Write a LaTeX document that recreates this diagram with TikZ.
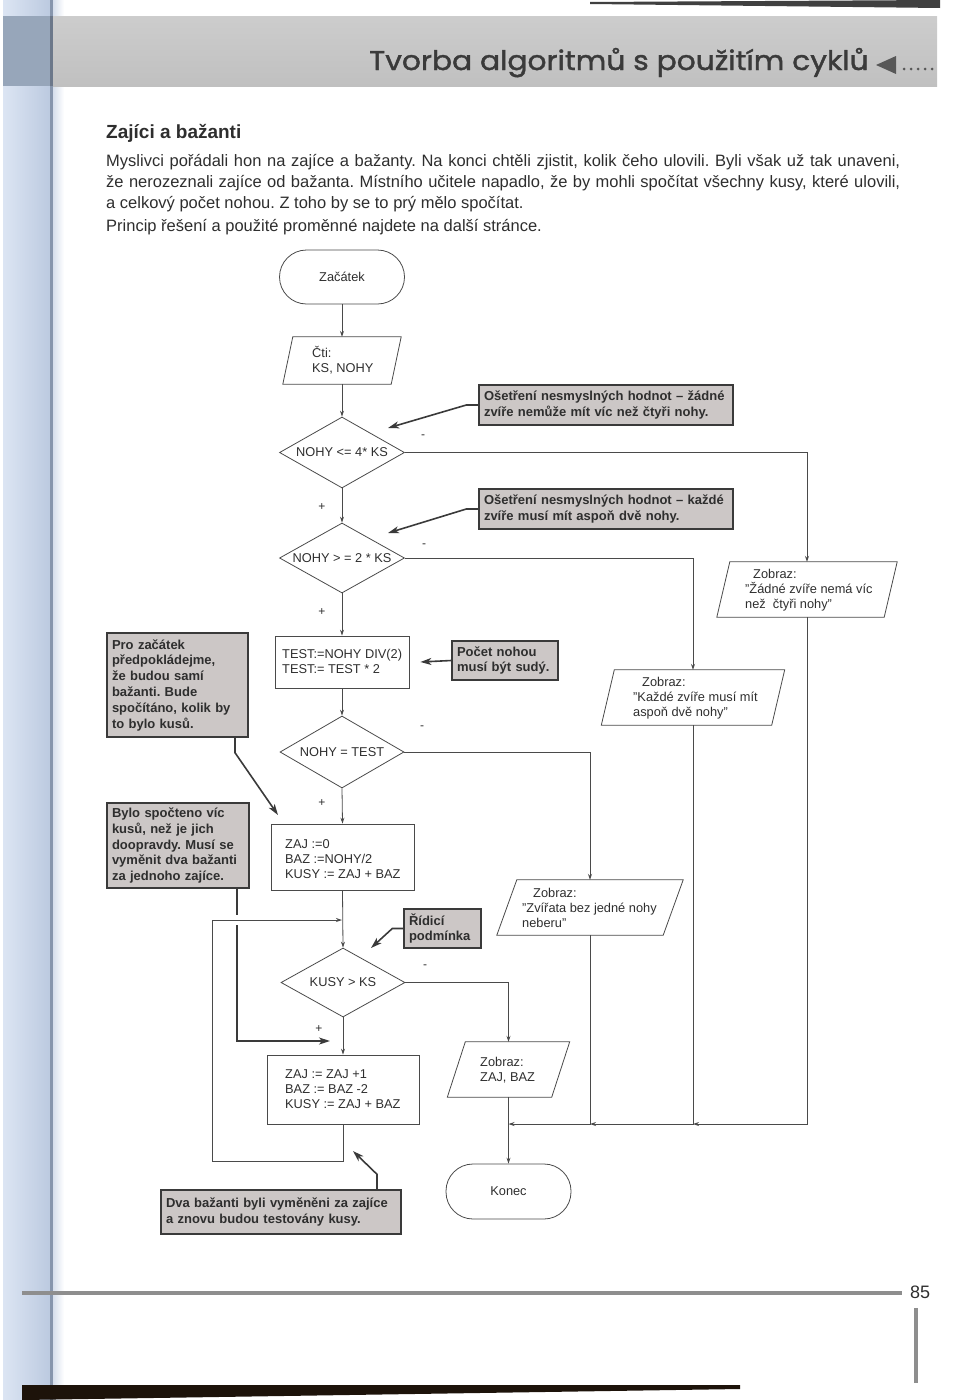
\documentclass[tikz,border=0pt]{standalone}
\usepackage{fontspec}
\setmainfont{Liberation Sans}
\newfontfamily\headfont{Poppins}[FakeBold=1.5,FakeStretch=1.1]
\usetikzlibrary{shapes.geometric,arrows.meta,calc}
\definecolor{ink}{HTML}{2E2E2E}
\definecolor{linec}{HTML}{4A4A4A}
\definecolor{annfill}{HTML}{CCC7C6}
\definecolor{anndraw}{HTML}{3A3A3A}
\definecolor{bandgray}{HTML}{C0C0C0}
\definecolor{titlegray}{HTML}{3A3A3A}
\definecolor{stripL}{HTML}{DCE5F3}
\definecolor{stripM}{HTML}{BCCAE0}
\definecolor{stripD}{HTML}{8796AD}
\definecolor{bandblue}{HTML}{97A6BA}
\definecolor{footgray}{HTML}{8E8E8E}
\newcommand\chartf{\fontsize{12.8}{15}\selectfont}
\newcommand\annf{\bfseries\fontsize{13}{15.8}\selectfont}
\newcommand\parf{\fontsize{16.5}{21}\selectfont}
\newcommand\slantbox[2]{\draw[shapeline] ([xshift=#2]#1.north west) -- ([xshift=#2]#1.north east) -- ([xshift=-#2]#1.south east) -- ([xshift=-#2]#1.south west) -- cycle;}
\begin{document}
\frenchspacing
\begin{tikzpicture}[x=1pt,y=-1pt,
  shapeline/.style={draw=linec,line width=0.8pt},
  term/.style={shapeline,rounded corners=27pt,font=\chartf,text=ink,inner sep=0pt},
  procbox/.style={shapeline,inner sep=0pt},
  decision/.style={shapeline,diamond,aspect=1.76,inner sep=0pt,font=\chartf,text=ink},
  iobox/.style={inner sep=0pt},
  txt/.style={font=\chartf,text=ink,align=left,inner sep=0pt,anchor=west},
  ann/.style={draw=anndraw,line width=1.4pt,fill=annfill,font=\annf,text=ink,align=left,inner xsep=5pt,inner ysep=0pt},
  flow/.style={draw=linec,line width=0.8pt,-{Stealth[length=6pt,width=4pt,inset=2pt]}},
  annarrow/.style={draw=anndraw,line width=1.6pt,-{Stealth[length=11pt,width=7pt,inset=3pt]}},
  annline/.style={draw=anndraw,line width=1.6pt},
  sign/.style={font=\fontsize{12}{12}\selectfont,text=ink,inner sep=0pt}
]
\useasboundingbox (0,0) rectangle (960,1400);
% page decoration
\shade[left color=stripL, right color=stripM] (3,0) rectangle (50,1400);
\fill[stripD] (50,0) rectangle (53,1400);
\shade[left color=stripM!60, right color=white] (53,0) rectangle (64,1400);
\shade[top color=bandgray!80, bottom color=bandgray] (53,16) rectangle (937,86);
\fill[bandblue] (3,16) rectangle (50,86);
\fill[stripD!80!black] (50,16) rectangle (53,86);
\fill[black!75] (590,2) -- (940,0) -- (940,8) -- (590,4) -- cycle;
\fill[black!85!brown] (22,1385) -- (740,1385) -- (740,1389) -- (22,1400) -- cycle;
\node[anchor=base west,font=\headfont\fontsize{27}{27}\selectfont,text=titlegray,inner sep=0pt] (head) at (369,70) {Tvorba algoritmů s použitím cyklů};
\fill[titlegray!85] (876,65) -- (896,56) -- (896,74) -- cycle;
\foreach \x in {904,911,918,925,932} \fill[titlegray!85] (\x,69) circle[radius=1.5pt];
\fill[footgray] (22,1291) rectangle (902,1295);
\fill[footgray] (914,1308) rectangle (918,1383);
\node[anchor=base west,font=\fontsize{18}{18}\selectfont,text=ink,inner sep=0pt] (pageno) at (910,1298) {85};
% text
\node[anchor=base west,font=\bfseries\fontsize{19}{19}\selectfont,text=ink,inner sep=0pt] (sect) at (106,138) {Zajíci a bažanti};
\node[anchor=base west,font=\parf,text=ink,inner sep=0pt] (p1) at (106,166) {\makebox[794pt][s]{Myslivci pořádali hon na zajíce a bažanty. Na konci chtěli zjistit, kolik čeho ulovili. Byli však už tak unaveni,}};
\node[anchor=base west,font=\parf,text=ink,inner sep=0pt] (p2) at (106,187) {\makebox[794pt][s]{že nerozeznali zajíce od bažanta. Místního učitele napadlo, že by mohli spočítat všechny kusy, které ulovili,}};
\node[anchor=base west,font=\parf,text=ink,inner sep=0pt] (p3) at (106,208) {a celkový počet nohou. Z toho by se to prý mělo spočítat.};
\node[anchor=base west,font=\parf,text=ink,inner sep=0pt] (p4) at (106,231) {Princip řešení a použité proměnné najdete na další stránce.};
% flowchart shapes
\node[term,minimum width=125pt,minimum height=54pt] (start) at (342,277) {Začátek};
\node[iobox,minimum width=108pt,minimum height=47pt] (cti) at (342,360.5) {};
\slantbox{cti}{5pt}
\node[txt] (ctit) at (312,360) {Čti:\\KS, NOHY};
\node[decision,minimum width=125pt,minimum height=71pt] (d1) at (342,452.5) {NOHY <= 4* KS};
\node[decision,minimum width=125pt,minimum height=70pt] (d2) at (342,558) {NOHY > = 2 * KS};
\node[procbox,minimum width=134pt,minimum height=52pt] (test) at (342,662) {};
\node[txt] (testt) at (282,661) {TEST:=NOHY DIV(2)\\TEST:= TEST * 2};
\node[decision,minimum width=124pt,minimum height=72pt] (d3) at (342,752) {NOHY = TEST};
\node[procbox,minimum width=143pt,minimum height=66pt] (zaj0) at (342.5,857) {};
\node[txt] (zaj0t) at (285,859) {ZAJ :=0\\BAZ :=NOHY/2\\KUSY := ZAJ + BAZ};
\node[decision,minimum width=124pt,minimum height=69pt] (d4) at (343,982.5) {KUSY > KS};
\node[procbox,minimum width=152pt,minimum height=69pt] (zaj1) at (343,1089.5) {};
\node[txt] (zaj1t) at (285,1089) {ZAJ := ZAJ +1\\BAZ := BAZ -2\\KUSY := ZAJ + BAZ};
\node[iobox,minimum width=167pt,minimum height=55pt] (zadne) at (807,589.5) {};
\slantbox{zadne}{6.5pt}
\node[txt] (zadnet) at (745,590) {\hspace*{8pt}Zobraz:\\"Žádné zvíře nemá víc\\než\ \ čtyři nohy"};
\node[iobox,minimum width=170pt,minimum height=55pt] (kazde) at (693,697.5) {};
\slantbox{kazde}{6.5pt}
\node[txt] (kazdet) at (633,698) {\hspace*{9pt}Zobraz:\\"Každé zvíře musí mít\\aspoň dvě nohy"};
\node[iobox,minimum width=166pt,minimum height=55pt] (zvirata) at (590,907.5) {};
\slantbox{zvirata}{10pt}
\node[txt] (zviratat) at (522,908) {\hspace*{11pt}Zobraz:\\"Zvířata bez jedné nohy\\neberu"};
\node[iobox,minimum width=104pt,minimum height=55pt] (zajbaz) at (508.5,1069.5) {};
\slantbox{zajbaz}{9pt}
\node[txt] (zajbazt) at (480,1070) {Zobraz:\\ZAJ, BAZ};
\node[term,minimum width=125pt,minimum height=55pt] (konec) at (508.5,1191.5) {Konec};
% annotations
\node[ann,text width=244pt,minimum height=40pt] (ann1) at (606,405) {Ošetření nesmyslných hodnot – žádné\\zvíře nemůže mít víc než čtyři nohy.};
\node[ann,text width=244pt,minimum height=40pt] (ann2) at (606,509) {Ošetření nesmyslných hodnot – každé\\zvíře musí mít aspoň dvě nohy.};
\node[ann,text width=96pt,minimum height=39pt] (pocet) at (505,660.5) {Počet nohou\\musí být sudý.};
\node[ann,text width=131pt,minimum height=104pt] (pro) at (177.5,685) {Pro začátek\\předpokládejme,\\že budou samí\\bažanti. Bude\\spočítáno, kolik by\\to bylo kusů.};
\node[ann,text width=132pt,minimum height=85pt] (bylo) at (178,845.5) {Bylo spočteno víc\\kusů, než je jich\\doopravdy. Musí se\\vyměnit dva bažanti\\za jednoho zajíce.};
\node[ann,text width=67pt,minimum height=39pt] (ridici) at (442.5,928.5) {Řídicí\\podmínka};
\node[ann,text width=230pt,minimum height=44pt] (dva) at (281,1212) {Dva bažanti byli vyměněni za zajíce\\a znovu budou testovány kusy.};
% signs
\node[sign] (s1) at (322,507) {+};
\node[sign] (s2) at (322,612) {+};
\node[sign] (s3) at (322,803) {+};
\node[sign] (s4) at (319,1029) {+};
\node[sign] (m1) at (423,437) {-};
\node[sign] (m2) at (424,546) {-};
\node[sign] (m3) at (422,728) {-};
\node[sign] (m4) at (425,967) {-};
% coordinates
\coordinate (a1tip) at (388,428);
\coordinate (a2tip) at (388,533);
\coordinate (protip) at (278,815);
\coordinate (gapA) at (237,915);
\coordinate (gapB) at (237,925);
\coordinate (bylotip) at (330,1041);
\coordinate (ridtip) at (371,948);
\coordinate (dvatip) at (353,1151);
\coordinate (loopin) at (342,920);
\coordinate (loopcorner) at (212,1161);
\coordinate (mrg) at (508.5,1124);
% flow connectors
\draw[flow] (start.south) -- (cti.north);
\draw[flow] (cti.south) -- (d1.north);
\draw[flow] (d1.south) -- (d2.north);
\draw[flow] (d2.south) -- (test.north);
\draw[flow] (test.south) -- (d3.north);
\draw[flow] (d3.south) -- (zaj0.north);
\draw[flow] (zaj0.south) -- (d4.north);
\draw[flow] (d4.south) -- (zaj1.north);
\draw[flow] (d1.east) -| (zadne.north);
\draw[flow] (d2.east) -| (kazde.north);
\draw[flow] (d3.east) -| (zvirata.north);
\draw[flow] (d4.east) -| (zajbaz.north);
\draw[flow] (zajbaz.south) -- (konec.north);
\draw[flow] (zaj1.south) |- (loopcorner) |- (loopin);
\draw[flow] (zadne.south) |- (kazde.south |- mrg);
\draw[flow] (kazde.south) |- (zvirata.south |- mrg);
\draw[flow] (zvirata.south) |- (mrg);
% annotation arrows
\draw[annarrow] (ann1.west) -- ++(-12,0) -- (a1tip);
\draw[annarrow] (ann2.west) -- ++(-12,0) -- (a2tip);
\draw[annarrow] (pocet.west) -- ([xshift=11pt]test.east);
\draw[annarrow] ([xshift=57.5pt]pro.south) -- ++(0,15) -- (protip);
\draw[annline] ([xshift=59pt]bylo.south) -- (gapA);
\draw[annarrow] (gapB) -- (gapB |- bylotip) -- (bylotip);
\draw[annarrow] (ridici.west) -- ++(-11,0) -- (ridtip);
\draw[annarrow] ([xshift=96pt]dva.north) -- ++(0,-15) -- (dvatip);
\end{tikzpicture}
\end{document}
